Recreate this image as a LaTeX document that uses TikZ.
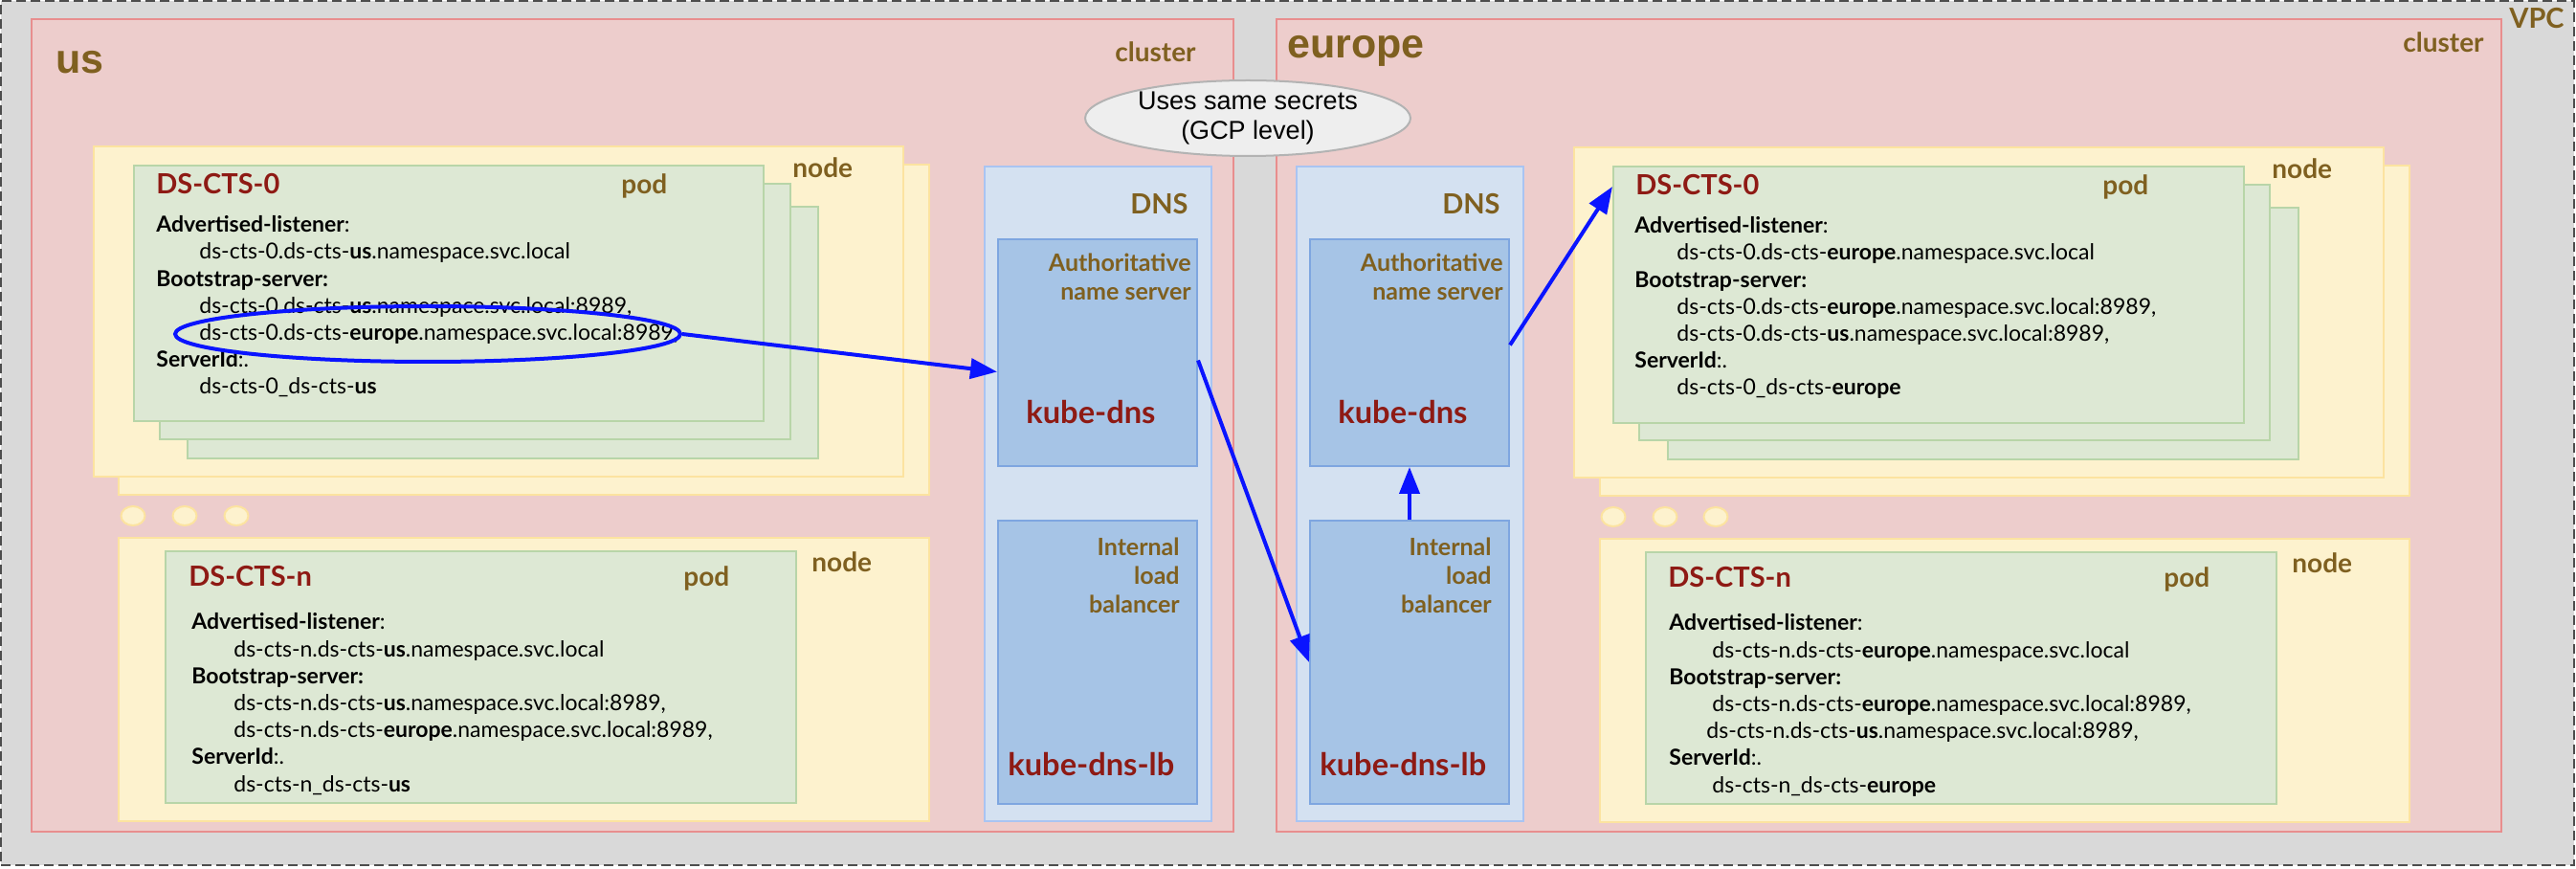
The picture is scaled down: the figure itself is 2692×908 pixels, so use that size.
\documentclass[tikz,border=0pt]{standalone}
\usepackage{fontspec}
\setmainfont{Lato}
\newfontfamily\headfont{Liberation Sans}
\usepackage{tikz}
\usetikzlibrary{arrows.meta, shapes.geometric, fit, calc}
\definecolor{vpcgray}{HTML}{D9D9D9}
\definecolor{vpcline}{HTML}{4D4D4D}
\definecolor{clusterfill}{HTML}{EDCDCC}
\definecolor{clusterline}{HTML}{E88E8E}
\definecolor{hostfill}{HTML}{FDF2CE}
\definecolor{hostline}{HTML}{FCE3A0}
\definecolor{podfill}{HTML}{DDE8D4}
\definecolor{podline}{HTML}{B8D5A8}
\definecolor{zonefill}{HTML}{D4E1F1}
\definecolor{zoneline}{HTML}{A9C4F2}
\definecolor{svcfill}{HTML}{A6C4E6}
\definecolor{svcline}{HTML}{7EA6E0}
\definecolor{tagbrown}{HTML}{7F6020}
\definecolor{podred}{HTML}{8E1A14}
\definecolor{linkblue}{HTML}{0A14FF}
\definecolor{secretfill}{HTML}{EEEEEE}
\definecolor{secretline}{HTML}{B3B3B3}

\begin{document}
\begin{tikzpicture}[x=0.5pt, y=-0.5pt,
  vpc/.style={draw=vpcline, fill=vpcgray, line width=1pt, dash pattern=on 5pt off 2.5pt, inner sep=0pt},
  cluster/.style={draw=clusterline, fill=clusterfill, line width=1pt, inner sep=0pt},
  host/.style={draw=hostline, fill=hostfill, line width=1pt, inner sep=0pt},
  podbox/.style={draw=podline, fill=podfill, line width=1pt, inner sep=0pt},
  zone/.style={draw=zoneline, fill=zonefill, line width=1pt, inner sep=0pt},
  svc/.style={draw=svcline, fill=svcfill, line width=1pt, inner sep=0pt},
  dot/.style={ellipse, draw=hostline, fill=hostfill, line width=1pt, minimum width=12.5pt, minimum height=10pt, inner sep=0pt},
  region/.style={text=tagbrown, font=\headfont\bfseries\fontsize{21.5}{24}\selectfont, inner sep=0pt, anchor=base west},
  tag/.style={text=tagbrown, font=\bfseries\fontsize{14}{16}\selectfont, inner sep=0pt},
  podname/.style={text=podred, font=\bfseries\fontsize{14.5}{16}\selectfont, inner sep=0pt, anchor=base west},
  svcname/.style={text=podred, font=\bfseries\fontsize{16.3}{18}\selectfont, inner sep=0pt, anchor=base west},
  svctag/.style={text=tagbrown, font=\bfseries\fontsize{12.5}{15}\selectfont, inner sep=0pt, anchor=base east, align=right},
  podtext/.style={align=left, font=\fontsize{11.5}{14.1}\selectfont, inner sep=0pt, anchor=base west},
  secret/.style={ellipse, draw=secretline, fill=secretfill, line width=1pt, minimum width=170pt, minimum height=39.5pt, inner sep=0pt, align=center, font=\headfont\fontsize{13.5}{15.5}\selectfont},
  link/.style={draw=linkblue, line width=2pt, -{Triangle[length=14pt,width=10.5pt]}}]

\useasboundingbox (0,0) rectangle (2692,908);

% VPC and the two clusters
\node[vpc, fit={(1,1) (2690,904)}] (vpc) {};
\node[tag, anchor=base east, font=\bfseries\fontsize{14.5}{16}\selectfont] (vpclbl) at (2680,30) {VPC};

\node[cluster, fit={(33,20) (1289,869)}] (us) {};
\node[cluster, fit={(1334,20) (2614,869)}] (eu) {};
\node[region] (uslbl) at (58,77) {us};
\node[region] (eulbl) at (1345,61) {europe};
\node[tag, anchor=base east] (uscl) at (1250,65) {cluster};
\node[tag, anchor=base east] (eucl) at (2596,55) {cluster};

% us, first node
\node[host, fit={(124,172) (971,517)}] (hostUSb) {};
\node[host, fit={(98,153) (944,498)}] (hostUS) {};
\node[podbox, fit={(196,216) (855,479)}] (podUSc) {};
\node[podbox, fit={(167,192) (826,459)}] (podUSb) {};
\node[podbox, fit={(140,173) (798,440)}] (podUS) {};
\node[tag, anchor=base west] (hostUSlbl) at (828,186) {node};
\node[podname] (podUSname) at (163,203) {DS-CTS-0};
\node[tag, anchor=base west] (podUSlbl) at (649,203) {pod};
\node[podtext] (podUStxt) at (163,412) {\textbf{Advertised-listener}:\\
  \hspace*{22.5pt}ds-cts-0.ds-cts-\textbf{us}.namespace.svc.local\\
  \textbf{Bootstrap-server:}\\
  \hspace*{22.5pt}ds-cts-0.ds-cts-\textbf{us}.namespace.svc.local:8989,\\
  \hspace*{22.5pt}ds-cts-0.ds-cts-\textbf{europe}.namespace.svc.local:8989,\\
  \textbf{ServerId}:.\\
  \hspace*{22.5pt}ds-cts-0\_ds-cts-\textbf{us}};

% us, dots and last node
\node[dot] (dotUSa) at (139,539) {};
\node[dot] (dotUSb) at (193,539) {};
\node[dot] (dotUSc) at (247,539) {};
\node[host, fit={(124,562) (971,858)}] (hostUSn) {};
\node[podbox, fit={(173,576) (832,839)}] (podUSn) {};
\node[tag, anchor=base west] (hostUSnlbl) at (848,597) {node};
\node[podname] (podUSnname) at (197,612) {DS-CTS-n};
\node[tag, anchor=base west] (podUSnlbl) at (714,612) {pod};
\node[podtext] (podUSntxt) at (200,827) {\textbf{Advertised-listener}:\\
  \hspace*{22pt}ds-cts-n.ds-cts-\textbf{us}.namespace.svc.local\\
  \textbf{Bootstrap-server:}\\
  \hspace*{22pt}ds-cts-n.ds-cts-\textbf{us}.namespace.svc.local:8989,\\
  \hspace*{22pt}ds-cts-n.ds-cts-\textbf{europe}.namespace.svc.local:8989,\\
  \textbf{ServerId}:.\\
  \hspace*{22pt}ds-cts-n\_ds-cts-\textbf{us}};

% us DNS
\node[zone, fit={(1029,174) (1266,858)}] (dnsUS) {};
\node[svc, fit={(1043,250) (1251,487)}] (kdnsUS) {};
\node[svc, fit={(1043,544) (1251,840)}] (lbUS) {};
\node[tag, anchor=base east, font=\bfseries\fontsize{14.5}{16}\selectfont] (dnsUSlbl) at (1242,224) {DNS};
\node[svctag] (kdnsUSlbl) at (1245,314) {Authoritative\\name server};
\node[svcname] (kdnsUSname) at (1072,443) {kube-dns};
\node[svctag] (lbUSlbl) at (1233,640) {Internal\\load\\balancer};
\node[svcname] (lbUSname) at (1053,810) {kube-dns-lb};

% europe DNS
\node[zone, fit={(1355,174) (1592,858)}] (dnsEU) {};
\node[svc, fit={(1369,250) (1577,487)}] (kdnsEU) {};
\node[svc, fit={(1369,544) (1577,840)}] (lbEU) {};
\node[tag, anchor=base east, font=\bfseries\fontsize{14.5}{16}\selectfont] (dnsEUlbl) at (1568,224) {DNS};
\node[svctag] (kdnsEUlbl) at (1571,314) {Authoritative\\name server};
\node[svcname] (kdnsEUname) at (1398,443) {kube-dns};
\node[svctag] (lbEUlbl) at (1559,640) {Internal\\load\\balancer};
\node[svcname] (lbEUname) at (1379,810) {kube-dns-lb};

% europe, first node
\node[host, fit={(1672,173) (2518,518)}] (hostEUb) {};
\node[host, fit={(1645,154) (2491,499)}] (hostEU) {};
\node[podbox, fit={(1743,217) (2402,480)}] (podEUc) {};
\node[podbox, fit={(1713,193) (2372,460)}] (podEUb) {};
\node[podbox, fit={(1686,174) (2345,442)}] (podEU) {};
\node[tag, anchor=base west] (hostEUlbl) at (2374,187) {node};
\node[podname] (podEUname) at (1709,204) {DS-CTS-0};
\node[tag, anchor=base west] (podEUlbl) at (2197,204) {pod};
\node[podtext] (podEUtxt) at (1708,413) {\textbf{Advertised-listener}:\\
  \hspace*{22pt}ds-cts-0.ds-cts-\textbf{europe}.namespace.svc.local\\
  \textbf{Bootstrap-server:}\\
  \hspace*{22pt}ds-cts-0.ds-cts-\textbf{europe}.namespace.svc.local:8989,\\
  \hspace*{22pt}ds-cts-0.ds-cts-\textbf{us}.namespace.svc.local:8989,\\
  \textbf{ServerId}:.\\
  \hspace*{22pt}ds-cts-0\_ds-cts-\textbf{europe}};

% europe, dots and last node
\node[dot] (dotEUa) at (1686,540) {};
\node[dot] (dotEUb) at (1740,540) {};
\node[dot] (dotEUc) at (1793,540) {};
\node[host, fit={(1672,563) (2518,859)}] (hostEUn) {};
\node[podbox, fit={(1720,577) (2379,840)}] (podEUn) {};
\node[tag, anchor=base west] (hostEUnlbl) at (2395,598) {node};
\node[podname] (podEUnname) at (1743,613) {DS-CTS-n};
\node[tag, anchor=base west] (podEUnlbl) at (2261,613) {pod};
\node[podtext] (podEUntxt) at (1744,828) {\textbf{Advertised-listener}:\\
  \hspace*{22.5pt}ds-cts-n.ds-cts-\textbf{europe}.namespace.svc.local\\
  \textbf{Bootstrap-server:}\\
  \hspace*{22.5pt}ds-cts-n.ds-cts-\textbf{europe}.namespace.svc.local:8989,\\
  \hspace*{19.5pt}ds-cts-n.ds-cts-\textbf{us}.namespace.svc.local:8989,\\
  \textbf{ServerId}:.\\
  \hspace*{22.5pt}ds-cts-n\_ds-cts-\textbf{europe}};

% shared secrets
\node[secret] (secrets) at (1304,123.5) {Uses same secrets\\(GCP level)};

% lookup path
\node[ellipse, draw=linkblue, line width=2pt, minimum width=264pt, minimum height=29pt, inner sep=0pt] (sel) at (447,349) {};
\draw[link] (sel.east) -- ($(kdnsUS.west)+(0,20)$);
\draw[link] ($(kdnsUS.east)+(0,8)$) -- (lbEU.west);
\draw[link] (lbEU.north) -- (kdnsEU.south);
\draw[link] ($(kdnsEU.east)+(0,-8)$) -- ($(podEU.north west)+(0,22)$);

\end{tikzpicture}
\end{document}
